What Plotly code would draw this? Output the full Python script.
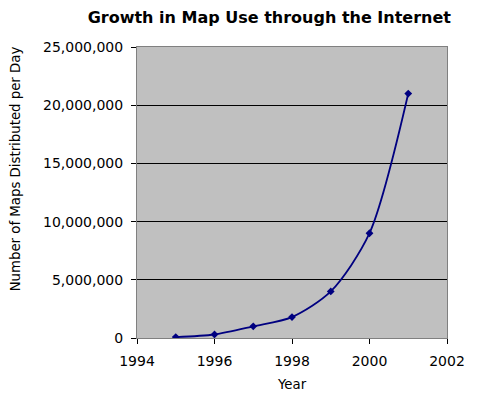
import plotly.graph_objects as go

years = [1995, 1996, 1997, 1998, 1999, 2000, 2001]
maps_per_day = [80000, 300000, 1000000, 1800000, 4000000, 9000000, 21000000]
y_ticks = [0, 5000000, 10000000, 15000000, 20000000, 25000000]
x_ticks = [1994, 1996, 1998, 2000, 2002]

fig = go.Figure()
fig.add_trace(go.Scatter(
    x=years, y=maps_per_day, mode="lines+markers",
    line=dict(color="#000080", width=1.8, shape="spline", smoothing=0.8),
    marker=dict(symbol="diamond", size=6, color="#000080"),
    showlegend=False,
))

sans = "Liberation Sans, Arial, sans-serif"
wide = "DejaVu Sans, Verdana, sans-serif"
fig.update_layout(
    width=470, height=390,
    margin=dict(l=129, r=31, t=39, b=60),
    paper_bgcolor="white", plot_bgcolor="#C0C0C0",
    font=dict(family=wide, color="black", size=13),
    title=dict(text="<b>Growth in Map Use through the Internet</b>", x=0.556, xanchor="center",
               xref="container", yref="container",
               y=0.977, yanchor="middle", font=dict(size=16, family=wide)),
    annotations=[
        dict(text="Number of Maps Distributed per Day", textangle=-90, xref="paper", yref="paper",
             x=-0.389, y=0.581, xanchor="center", yanchor="middle", showarrow=False,
             font=dict(size=13.3, family=wide)),
        dict(text="Year", xref="paper", yref="paper", x=0.5, y=-0.1615,
             xanchor="center", yanchor="middle", showarrow=False,
             font=dict(size=13.3, family=wide)),
    ],
)
fig.update_xaxes(
    range=[1994, 2002], tickvals=x_ticks, ticks="outside", ticklen=5, tickcolor="black",
    showgrid=False, zeroline=False, showline=True, linecolor="#808080", linewidth=1, mirror=True,
    tickfont=dict(size=14, family=wide), ticklabelstandoff=5,
)
fig.update_yaxes(
    range=[0, 25000000], tickvals=y_ticks, tickformat=",d", ticks="outside", ticklen=5,
    tickcolor="black", showgrid=True, gridcolor="black", gridwidth=1, zeroline=False,
    showline=True, linecolor="#808080", linewidth=1, mirror=True,
    tickfont=dict(size=14, family=wide), ticklabelstandoff=5,
)
fig.write_html("out.html")
